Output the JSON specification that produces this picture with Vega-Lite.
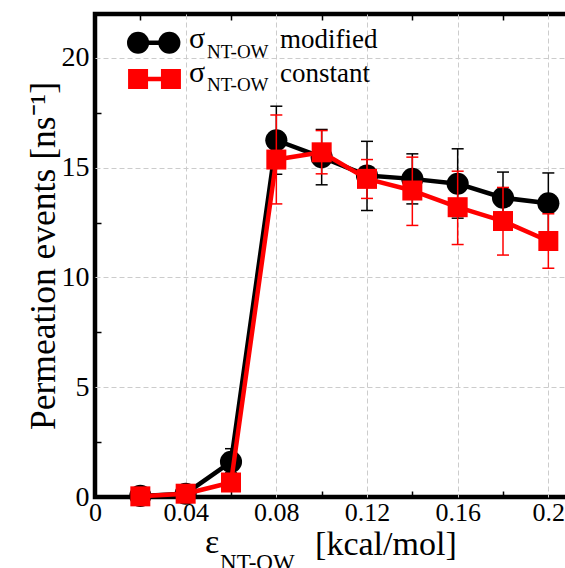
{
  "$schema": "https://vega.github.io/schema/vega-lite/v6.json",
  "autosize": "none",
  "width": 476,
  "height": 483,
  "padding": {"left": 95, "top": 14, "right": 0, "bottom": 71},
  "background": "white",
  "config": {
    "font": "Liberation Serif",
    "view": {"stroke": "black", "strokeWidth": 4.5},
    "axis": {
      "domain": false,
      "labelFont": "Liberation Serif",
      "titleFont": "Liberation Serif",
      "labelColor": "black",
      "tickColor": "black",
      "titleColor": "black",
      "titleFontWeight": "normal",
      "gridColor": "#cccccc",
      "gridDash": [5, 3],
      "gridWidth": 1,
      "tickWidth": 1.5
    }
  },
  "datasets": {
    "pts": [
      {"eps": 0.02, "series": "modified", "val": 0.05, "lo": 0.0, "hi": 0.1},
      {"eps": 0.04, "series": "modified", "val": 0.15, "lo": 0.05, "hi": 0.25},
      {"eps": 0.06, "series": "modified", "val": 1.6, "lo": 1.1, "hi": 2.2},
      {"eps": 0.08, "series": "modified", "val": 16.25, "lo": 14.7, "hi": 17.8},
      {"eps": 0.10, "series": "modified", "val": 15.48, "lo": 14.22, "hi": 16.74},
      {"eps": 0.12, "series": "modified", "val": 14.64, "lo": 13.05, "hi": 16.2},
      {"eps": 0.14, "series": "modified", "val": 14.49, "lo": 13.35, "hi": 15.63},
      {"eps": 0.16, "series": "modified", "val": 14.27, "lo": 12.7, "hi": 15.86},
      {"eps": 0.18, "series": "modified", "val": 13.63, "lo": 12.47, "hi": 14.8},
      {"eps": 0.20, "series": "modified", "val": 13.38, "lo": 12.0, "hi": 14.76},
      {"eps": 0.02, "series": "constant", "val": 0.03, "lo": 0.0, "hi": 0.08},
      {"eps": 0.04, "series": "constant", "val": 0.15, "lo": 0.05, "hi": 0.25},
      {"eps": 0.06, "series": "constant", "val": 0.66, "lo": 0.4, "hi": 0.9},
      {"eps": 0.08, "series": "constant", "val": 15.37, "lo": 13.35, "hi": 17.4},
      {"eps": 0.10, "series": "constant", "val": 15.7, "lo": 14.72, "hi": 16.69},
      {"eps": 0.12, "series": "constant", "val": 14.49, "lo": 13.6, "hi": 15.37},
      {"eps": 0.14, "series": "constant", "val": 13.96, "lo": 12.37, "hi": 15.48},
      {"eps": 0.16, "series": "constant", "val": 13.2, "lo": 11.5, "hi": 14.84},
      {"eps": 0.18, "series": "constant", "val": 12.57, "lo": 11.02, "hi": 14.1},
      {"eps": 0.20, "series": "constant", "val": 11.66, "lo": 10.42, "hi": 12.9}
    ]
  },
  "layer": [
    {
      "data": {"name": "pts"},
      "transform": [{"filter": "datum.series == 'modified'"}],
      "mark": {"type": "line", "color": "black", "strokeWidth": 4.5, "strokeJoin": "round"},
      "encoding": {
        "x": {"field": "eps", "type": "quantitative", "scale": {"domain": [0, 0.21], "nice": false, "zero": false},
          "axis": {
            "orient": "bottom",
            "values": [0, 0.02, 0.04, 0.06, 0.08, 0.1, 0.12, 0.14, 0.16, 0.18, 0.2],
            "format": "~g",
            "labelExpr": "round(datum.value*100) % 4 == 0 ? datum.label : ''",
            "labelFontSize": 26,
            "labelPadding": 8,
            "labelFlush": false,
            "labelOverlap": false,
            "tickSize": -6,
            "tickOpacity": {"condition": {"test": "round(datum.value*100) % 4 == 0", "value": 0}, "value": 1},
            "grid": true,
            "gridOpacity": {"condition": {"test": "round(datum.value*100) % 4 == 0 && datum.value > 0", "value": 1}, "value": 0},
            "title": null
          }},
        "y": {"field": "val", "type": "quantitative", "scale": {"domain": [0, 22], "nice": false, "zero": false},
          "axis": {
            "orient": "left",
            "values": [0, 2.5, 5, 7.5, 10, 12.5, 15, 17.5, 20],
            "format": "~g",
            "labelExpr": "datum.value % 5 == 0 ? datum.label : ''",
            "labelFontSize": 28,
            "labelPadding": 12,
            "labelFlush": false,
            "labelOverlap": false,
            "tickSize": -6,
            "tickOpacity": {"condition": {"test": "datum.value % 5 == 0", "value": 0}, "value": 1},
            "grid": true,
            "gridOpacity": {"condition": {"test": "datum.value % 5 == 0 && datum.value > 0", "value": 1}, "value": 0},
            "title": "Permeation events [ns⁻¹]",
            "titleFontSize": 35.5,
            "titleX": -41,
            "titleBaseline": "alphabetic"
          }}
      }
    },
    {
      "data": {"name": "pts"},
      "mark": {"type": "point", "opacity": 0},
      "encoding": {
        "x": {"field": "eps", "type": "quantitative", "scale": {"domain": [0, 0.21], "nice": false, "zero": false},
          "axis": {
            "orient": "top",
            "values": [0, 0.02, 0.04, 0.06, 0.08, 0.1, 0.12, 0.14, 0.16, 0.18, 0.2],
            "labels": false,
            "tickSize": -6,
            "tickOpacity": {"condition": {"test": "round(datum.value*100) % 4 == 0", "value": 0}, "value": 1},
            "grid": false,
            "title": null
          }},
        "y": {"field": "val", "type": "quantitative", "scale": {"domain": [0, 22], "nice": false, "zero": false},
          "axis": {
            "orient": "right",
            "values": [0, 2.5, 5, 7.5, 10, 12.5, 15, 17.5, 20],
            "labels": false,
            "tickSize": -6,
            "tickOpacity": {"condition": {"test": "datum.value % 5 == 0", "value": 0}, "value": 1},
            "grid": false,
            "title": null
          }}
      }
    },
    {
      "data": {"name": "pts"},
      "transform": [{"filter": "datum.series == 'modified'"}],
      "mark": {"type": "rule", "color": "black", "strokeWidth": 1.5},
      "encoding": {
        "x": {"field": "eps", "type": "quantitative", "scale": {"domain": [0, 0.21], "nice": false, "zero": false}, "axis": null},
        "y": {"field": "lo", "type": "quantitative", "scale": {"domain": [0, 22], "nice": false, "zero": false}, "axis": null},
        "y2": {"field": "hi"}
      }
    },
    {
      "data": {"name": "pts"},
      "transform": [{"filter": "datum.series == 'modified'"}],
      "mark": {"type": "tick", "orient": "horizontal", "color": "black", "thickness": 1.5, "size": 12, "opacity": 1},
      "encoding": {
        "x": {"field": "eps", "type": "quantitative", "scale": {"domain": [0, 0.21], "nice": false, "zero": false}, "axis": null},
        "y": {"field": "lo", "type": "quantitative", "scale": {"domain": [0, 22], "nice": false, "zero": false}, "axis": null}
      }
    },
    {
      "data": {"name": "pts"},
      "transform": [{"filter": "datum.series == 'modified'"}],
      "mark": {"type": "tick", "orient": "horizontal", "color": "black", "thickness": 1.5, "size": 12, "opacity": 1},
      "encoding": {
        "x": {"field": "eps", "type": "quantitative", "scale": {"domain": [0, 0.21], "nice": false, "zero": false}, "axis": null},
        "y": {"field": "hi", "type": "quantitative", "scale": {"domain": [0, 22], "nice": false, "zero": false}, "axis": null}
      }
    },
    {
      "data": {"name": "pts"},
      "transform": [{"filter": "datum.series == 'modified'"}],
      "mark": {"type": "circle", "color": "black", "size": 490, "opacity": 1},
      "encoding": {
        "x": {"field": "eps", "type": "quantitative", "scale": {"domain": [0, 0.21], "nice": false, "zero": false}, "axis": null},
        "y": {"field": "val", "type": "quantitative", "scale": {"domain": [0, 22], "nice": false, "zero": false}, "axis": null}
      }
    },
    {
      "data": {"name": "pts"},
      "transform": [{"filter": "datum.series == 'constant'"}],
      "mark": {"type": "line", "color": "#ff0000", "strokeWidth": 4.5, "strokeJoin": "round"},
      "encoding": {
        "x": {"field": "eps", "type": "quantitative", "scale": {"domain": [0, 0.21], "nice": false, "zero": false}, "axis": null},
        "y": {"field": "val", "type": "quantitative", "scale": {"domain": [0, 22], "nice": false, "zero": false}, "axis": null}
      }
    },
    {
      "data": {"name": "pts"},
      "transform": [{"filter": "datum.series == 'constant'"}],
      "mark": {"type": "rule", "color": "#ff0000", "strokeWidth": 1.5},
      "encoding": {
        "x": {"field": "eps", "type": "quantitative", "scale": {"domain": [0, 0.21], "nice": false, "zero": false}, "axis": null},
        "y": {"field": "lo", "type": "quantitative", "scale": {"domain": [0, 22], "nice": false, "zero": false}, "axis": null},
        "y2": {"field": "hi"}
      }
    },
    {
      "data": {"name": "pts"},
      "transform": [{"filter": "datum.series == 'constant'"}],
      "mark": {"type": "tick", "orient": "horizontal", "color": "#ff0000", "thickness": 1.5, "size": 12, "opacity": 1},
      "encoding": {
        "x": {"field": "eps", "type": "quantitative", "scale": {"domain": [0, 0.21], "nice": false, "zero": false}, "axis": null},
        "y": {"field": "lo", "type": "quantitative", "scale": {"domain": [0, 22], "nice": false, "zero": false}, "axis": null}
      }
    },
    {
      "data": {"name": "pts"},
      "transform": [{"filter": "datum.series == 'constant'"}],
      "mark": {"type": "tick", "orient": "horizontal", "color": "#ff0000", "thickness": 1.5, "size": 12, "opacity": 1},
      "encoding": {
        "x": {"field": "eps", "type": "quantitative", "scale": {"domain": [0, 0.21], "nice": false, "zero": false}, "axis": null},
        "y": {"field": "hi", "type": "quantitative", "scale": {"domain": [0, 22], "nice": false, "zero": false}, "axis": null}
      }
    },
    {
      "data": {"name": "pts"},
      "transform": [{"filter": "datum.series == 'constant'"}],
      "mark": {"type": "square", "color": "#ff0000", "size": 400, "opacity": 1},
      "encoding": {
        "x": {"field": "eps", "type": "quantitative", "scale": {"domain": [0, 0.21], "nice": false, "zero": false}, "axis": null},
        "y": {"field": "val", "type": "quantitative", "scale": {"domain": [0, 22], "nice": false, "zero": false}, "axis": null}
      }
    },
    {
      "data": {"values": [{}]},
      "mark": {"type": "rule", "color": "black", "strokeWidth": 4.5},
      "encoding": {
        "x": {"datum": 0.019, "type": "quantitative", "scale": {"domain": [0, 0.21], "nice": false, "zero": false}, "axis": null},
        "x2": {"datum": 0.0328},
        "y": {"datum": 20.69, "type": "quantitative", "scale": {"domain": [0, 22], "nice": false, "zero": false}, "axis": null}
      }
    },
    {
      "data": {"values": [{}]},
      "mark": {"type": "circle", "color": "black", "size": 490, "opacity": 1},
      "encoding": {
        "x": {"datum": 0.019, "type": "quantitative", "scale": {"domain": [0, 0.21], "nice": false, "zero": false}, "axis": null},
        "y": {"datum": 20.69, "type": "quantitative", "scale": {"domain": [0, 22], "nice": false, "zero": false}, "axis": null}
      }
    },
    {
      "data": {"values": [{}]},
      "mark": {"type": "circle", "color": "black", "size": 490, "opacity": 1},
      "encoding": {
        "x": {"datum": 0.0328, "type": "quantitative", "scale": {"domain": [0, 0.21], "nice": false, "zero": false}, "axis": null},
        "y": {"datum": 20.69, "type": "quantitative", "scale": {"domain": [0, 22], "nice": false, "zero": false}, "axis": null}
      }
    },
    {
      "data": {"values": [{}]},
      "mark": {"type": "rule", "color": "#ff0000", "strokeWidth": 4.5},
      "encoding": {
        "x": {"datum": 0.019, "type": "quantitative", "scale": {"domain": [0, 0.21], "nice": false, "zero": false}, "axis": null},
        "x2": {"datum": 0.0335},
        "y": {"datum": 19.04, "type": "quantitative", "scale": {"domain": [0, 22], "nice": false, "zero": false}, "axis": null}
      }
    },
    {
      "data": {"values": [{}]},
      "mark": {"type": "square", "color": "#ff0000", "size": 400, "opacity": 1},
      "encoding": {
        "x": {"datum": 0.019, "type": "quantitative", "scale": {"domain": [0, 0.21], "nice": false, "zero": false}, "axis": null},
        "y": {"datum": 19.04, "type": "quantitative", "scale": {"domain": [0, 22], "nice": false, "zero": false}, "axis": null}
      }
    },
    {
      "data": {"values": [{}]},
      "mark": {"type": "square", "color": "#ff0000", "size": 400, "opacity": 1},
      "encoding": {
        "x": {"datum": 0.0335, "type": "quantitative", "scale": {"domain": [0, 0.21], "nice": false, "zero": false}, "axis": null},
        "y": {"datum": 19.04, "type": "quantitative", "scale": {"domain": [0, 22], "nice": false, "zero": false}, "axis": null}
      }
    },
    {
      "data": {"values": [{}]},
      "mark": {"type": "text", "text": "σ", "font": "Liberation Serif", "fontSize": 30, "align": "left", "baseline": "alphabetic", "color": "black"},
      "encoding": {
        "x": {"datum": 0.0415, "type": "quantitative", "scale": {"domain": [0, 0.21], "nice": false, "zero": false}, "axis": null},
        "y": {"datum": 20.45, "type": "quantitative", "scale": {"domain": [0, 22], "nice": false, "zero": false}, "axis": null}
      }
    },
    {
      "data": {"values": [{}]},
      "mark": {"type": "text", "text": "NT-OW", "font": "Liberation Serif", "fontSize": 19, "align": "left", "baseline": "alphabetic", "color": "black"},
      "encoding": {
        "x": {"datum": 0.0494, "type": "quantitative", "scale": {"domain": [0, 0.21], "nice": false, "zero": false}, "axis": null},
        "y": {"datum": 19.98, "type": "quantitative", "scale": {"domain": [0, 22], "nice": false, "zero": false}, "axis": null}
      }
    },
    {
      "data": {"values": [{}]},
      "mark": {"type": "text", "text": "modified", "font": "Liberation Serif", "fontSize": 27, "align": "left", "baseline": "alphabetic", "color": "black"},
      "encoding": {
        "x": {"datum": 0.0816, "type": "quantitative", "scale": {"domain": [0, 0.21], "nice": false, "zero": false}, "axis": null},
        "y": {"datum": 20.45, "type": "quantitative", "scale": {"domain": [0, 22], "nice": false, "zero": false}, "axis": null}
      }
    },
    {
      "data": {"values": [{}]},
      "mark": {"type": "text", "text": "σ", "font": "Liberation Serif", "fontSize": 30, "align": "left", "baseline": "alphabetic", "color": "black"},
      "encoding": {
        "x": {"datum": 0.0415, "type": "quantitative", "scale": {"domain": [0, 0.21], "nice": false, "zero": false}, "axis": null},
        "y": {"datum": 18.9, "type": "quantitative", "scale": {"domain": [0, 22], "nice": false, "zero": false}, "axis": null}
      }
    },
    {
      "data": {"values": [{}]},
      "mark": {"type": "text", "text": "NT-OW", "font": "Liberation Serif", "fontSize": 19, "align": "left", "baseline": "alphabetic", "color": "black"},
      "encoding": {
        "x": {"datum": 0.0494, "type": "quantitative", "scale": {"domain": [0, 0.21], "nice": false, "zero": false}, "axis": null},
        "y": {"datum": 18.51, "type": "quantitative", "scale": {"domain": [0, 22], "nice": false, "zero": false}, "axis": null}
      }
    },
    {
      "data": {"values": [{}]},
      "mark": {"type": "text", "text": "constant", "font": "Liberation Serif", "fontSize": 27, "align": "left", "baseline": "alphabetic", "color": "black"},
      "encoding": {
        "x": {"datum": 0.0816, "type": "quantitative", "scale": {"domain": [0, 0.21], "nice": false, "zero": false}, "axis": null},
        "y": {"datum": 18.92, "type": "quantitative", "scale": {"domain": [0, 22], "nice": false, "zero": false}, "axis": null}
      }
    },
    {
      "data": {"values": [{}]},
      "mark": {"type": "text", "text": "ε", "font": "Liberation Serif", "fontSize": 34, "align": "left", "baseline": "alphabetic", "color": "black"},
      "encoding": {
        "x": {"datum": 0.0485, "type": "quantitative", "scale": {"domain": [0, 0.21], "nice": false, "zero": false}, "axis": null},
        "y": {"datum": -2.55, "type": "quantitative", "scale": {"domain": [0, 22], "nice": false, "zero": false}, "axis": null}
      }
    },
    {
      "data": {"values": [{}]},
      "mark": {"type": "text", "text": "NT-OW", "font": "Liberation Serif", "fontSize": 23, "align": "left", "baseline": "alphabetic", "color": "black"},
      "encoding": {
        "x": {"datum": 0.0552, "type": "quantitative", "scale": {"domain": [0, 0.21], "nice": false, "zero": false}, "axis": null},
        "y": {"datum": -3.33, "type": "quantitative", "scale": {"domain": [0, 22], "nice": false, "zero": false}, "axis": null}
      }
    },
    {
      "data": {"values": [{}]},
      "mark": {"type": "text", "text": "[kcal/mol]", "font": "Liberation Serif", "fontSize": 34, "align": "left", "baseline": "alphabetic", "color": "black"},
      "encoding": {
        "x": {"datum": 0.0971, "type": "quantitative", "scale": {"domain": [0, 0.21], "nice": false, "zero": false}, "axis": null},
        "y": {"datum": -2.64, "type": "quantitative", "scale": {"domain": [0, 22], "nice": false, "zero": false}, "axis": null}
      }
    }
  ],
  "resolve": {"axis": {"x": "independent", "y": "independent"}}
}
